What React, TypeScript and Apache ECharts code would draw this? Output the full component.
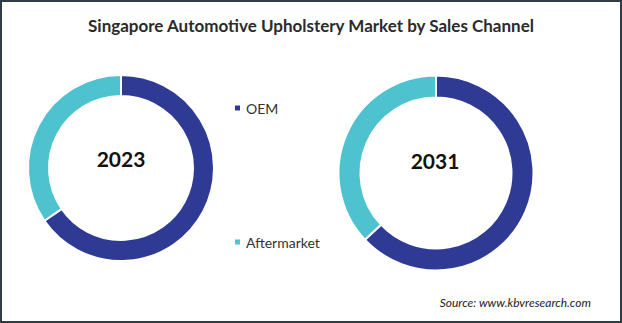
import React, { useEffect, useRef } from "react";
import * as echarts from "echarts";

const categories = ["OEM", "Aftermarket"];
const years = ["2023", "2031"];
const share2023 = [65.4, 34.6];
const share2031 = [63.0, 37.0];
const colors = ["#2E3A94", "#4EC3CF"];

export default function App() {
  const ref = useRef<HTMLDivElement>(null);
  useEffect(() => {
    document.body.style.margin = "0";
    const chart = echarts.init(ref.current!, null, { renderer: "svg" });
    const mk = (vals: number[]) => categories.map((c, i) => ({ name: c, value: vals[i] }));
    chart.setOption({
      animation: false,
      backgroundColor: "#ffffff",
      color: colors,
      title: {
        text: "Singapore Automotive Upholstery Market by Sales Channel",
        left: "center",
        top: 12,
        textStyle: { fontFamily: "Lato", fontWeight: "bold", fontSize: 17, color: "#2b2b2b" },
      },
      legend: {
        orient: "vertical",
        left: 228,
        top: 96,
        itemGap: 120,
        icon: "rect",
        itemWidth: 7,
        itemHeight: 7,
        textStyle: { fontFamily: "Lato", fontSize: 14, color: "#333" },
        data: categories,
      },
      graphic: [
        {
          type: "rect",
          shape: { x: 1, y: 1, width: 620, height: 321 },
          style: { fill: "none", stroke: "#2F3D47", lineWidth: 2 },
          silent: true,
        },
        {
          type: "text",
          x: 121,
          y: 158,
          style: { text: years[0], fontFamily: "Lato", fontWeight: "bold", fontSize: 21, fill: "#111", align: "center", verticalAlign: "middle" },
        },
        {
          type: "text",
          x: 435,
          y: 160,
          style: { text: years[1], fontFamily: "Lato", fontWeight: "bold", fontSize: 21, fill: "#111", align: "center", verticalAlign: "middle" },
        },
        {
          type: "text",
          right: 31,
          top: 296,
          style: { text: "Source: www.kbvresearch.com", fontFamily: "Lato", fontStyle: "italic", fontSize: 12, fill: "#222" },
        },
      ],
      series: [
        {
          type: "pie",
          name: years[0],
          center: [121, 168],
          radius: [72, 93],
          startAngle: 90,
          clockwise: true,
          label: { show: false },
          labelLine: { show: false },
          itemStyle: { borderColor: "#fff", borderWidth: 2 },
          emphasis: { disabled: true },
          data: mk(share2023),
        },
        {
          type: "pie",
          name: years[1],
          center: [436, 173],
          radius: [75.5, 97.5],
          startAngle: 90,
          clockwise: true,
          label: { show: false },
          labelLine: { show: false },
          itemStyle: { borderColor: "#fff", borderWidth: 2 },
          emphasis: { disabled: true },
          data: mk(share2031),
        },
      ],
    });
    return () => chart.dispose();
  }, []);
  return <div ref={ref} style={{ position: "absolute", left: 0, top: 0, width: 622, height: 323 }} />;
}
